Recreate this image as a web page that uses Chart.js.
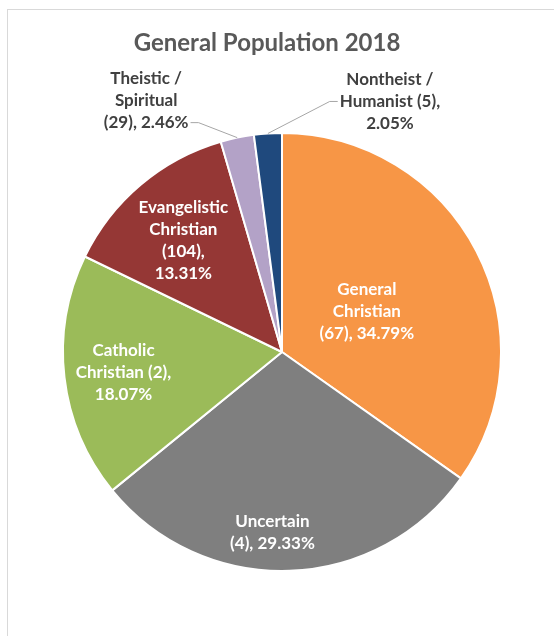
<!DOCTYPE html>
<html>
<head>
<meta charset="utf-8">
<script src="https://cdn.jsdelivr.net/npm/chart.js@4.4.1/dist/chart.umd.min.js"></script>
<style>
  html, body { margin: 0; padding: 0; background: #fff; }
  #frame { position: absolute; left: 7px; top: 9px; width: 600px; height: 700px;
           border-left: 1px solid #d9d9d9; border-top: 1px solid #d9d9d9; }
  #wrap { position: absolute; left: 0; top: 0; width: 554px; height: 636px; }
</style>
</head>
<body>
<div id="frame"></div>
<div id="wrap"><canvas id="pieChart" width="554" height="636"></canvas></div>
<script>
const chartTitle = "General Population 2018";
const categories = ["General Christian", "Uncertain", "Catholic Christian", "Evangelistic Christian", "Theistic / Spiritual", "Nontheist / Humanist"];
const counts = [67, 4, 2, 104, 29, 5];
const percentages = [34.79, 29.33, 18.07, 13.31, 2.46, 2.05];
const colors = ["#f79646", "#7f7f7f", "#9bbb59", "#953735", "#b3a2c7", "#1f497d"];

// words per label line, and where each label sits
const lineSplits = [[1, 1, 2], [1, 2], [1, 2, 1], [1, 1, 1, 1], [2, 1, 2], [2, 2, 1]];
const insideFraction = [0.43, 0.825, 0.73, 0.68, null, null];
const angleShift = [1.7, 5, -0.8, -1.3, 0, 0];
const outsideOffset = [null, null, null, null, [-91, -37], [122, -32]];

const FONT = "Lato, 'Open Sans', sans-serif";

function labelLines(i) {
  const words = `${categories[i]} (${counts[i]}), ${percentages[i].toFixed(2)}%`.split(" ");
  const lines = [];
  let k = 0;
  lineSplits[i].forEach(n => {
    lines.push(words.slice(k, k + n).join(" "));
    k += n;
  });
  return lines;
}

const sliceLabels = {
  id: "sliceLabels",
  afterDatasetsDraw(chart) {
    const ctx = chart.ctx;
    const arcs = chart.getDatasetMeta(0).data;
    const lh = 22;
    ctx.save();
    ctx.font = "bold 17px " + FONT;
    ctx.textAlign = "center";
    ctx.textBaseline = "middle";
    arcs.forEach((arc, i) => {
      const p = arc.getProps(["x", "y", "startAngle", "endAngle", "outerRadius"], true);
      const mid = (p.startAngle + p.endAngle) / 2 + angleShift[i] * Math.PI / 180;
      const lines = labelLines(i);
      let cx, cy;
      if (insideFraction[i] !== null) {
        const r = p.outerRadius * insideFraction[i];
        cx = p.x + Math.cos(mid) * r;
        cy = p.y + Math.sin(mid) * r;
        ctx.fillStyle = "#ffffff";
      } else {
        const ex = p.x + Math.cos(mid) * p.outerRadius;
        const ey = p.y + Math.sin(mid) * p.outerRadius;
        cx = ex + outsideOffset[i][0];
        cy = ey + outsideOffset[i][1];
        // leader line
        const left = outsideOffset[i][0] > 0;
        const lineIdx = left ? 1 : lines.length - 1;
        const ly = cy + (lineIdx - (lines.length - 1) / 2) * lh;
        const w = ctx.measureText(lines[lineIdx]).width;
        const tx = left ? cx - w / 2 - 2 : cx + w / 2 + 2;
        const kx = left ? tx - 8 : tx + 8;
        ctx.strokeStyle = "#a6a6a6";
        ctx.lineWidth = 1;
        ctx.beginPath();
        ctx.moveTo(tx, ly);
        ctx.lineTo(kx, ly);
        ctx.lineTo(ex, ey);
        ctx.stroke();
        ctx.fillStyle = "#404040";
      }
      lines.forEach((t, j) => {
        ctx.fillText(t, cx, cy + (j - (lines.length - 1) / 2) * lh);
      });
    });
    // title
    ctx.font = "bold 24px " + FONT;
    ctx.fillStyle = "#595959";
    ctx.fillText(chartTitle, 267, 43);
    ctx.restore();
  }
};

new Chart(document.getElementById("pieChart"), {
  type: "pie",
  data: {
    labels: categories,
    datasets: [{
      data: percentages,
      backgroundColor: colors,
      borderColor: "#ffffff",
      borderWidth: 2
    }]
  },
  options: {
    responsive: false,
    animation: false,
    devicePixelRatio: 1,
    layout: { padding: { left: 62, right: 52, top: 132, bottom: 64 } },
    plugins: {
      legend: { display: false },
      title: { display: false },
      tooltip: { enabled: false }
    }
  },
  plugins: [sliceLabels]
});
</script>
</body>
</html>
